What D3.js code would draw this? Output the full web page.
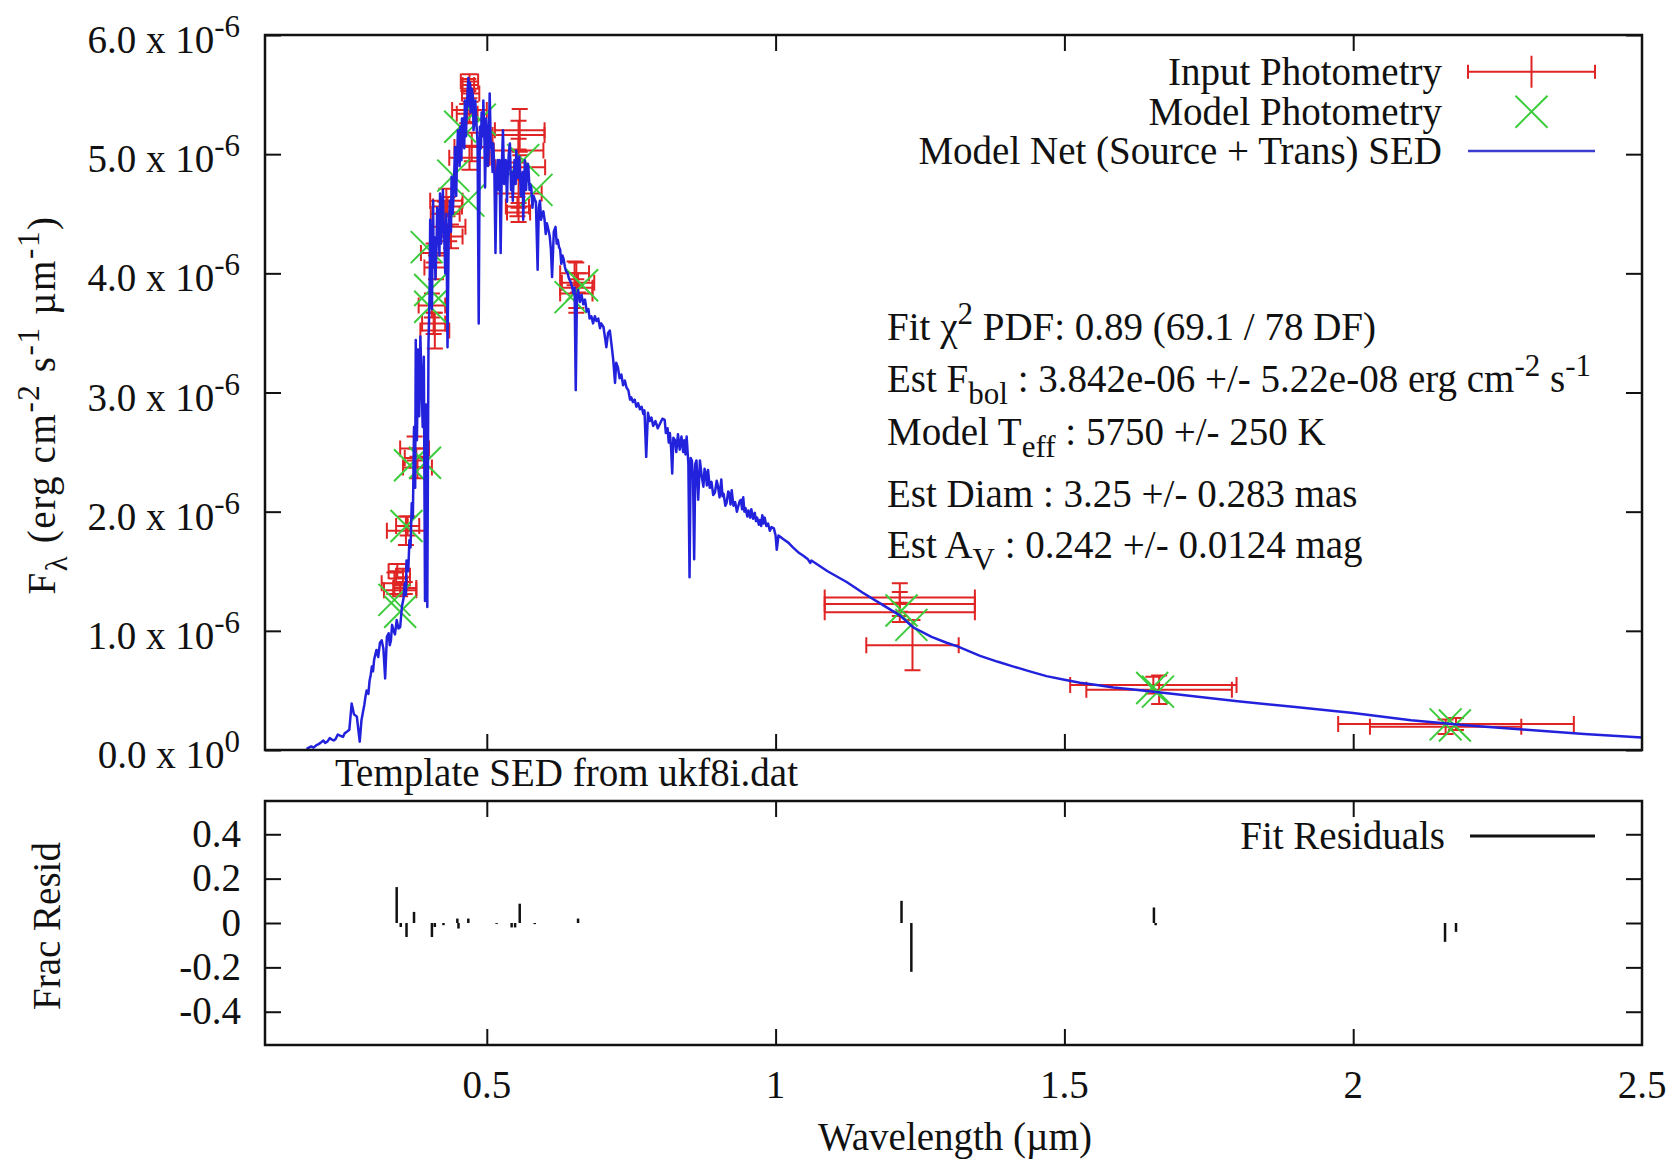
<!DOCTYPE html>
<html>
<head>
<meta charset="utf-8">
<script src="https://cdn.jsdelivr.net/npm/d3@7"></script>
<style>
  body { margin: 0; background: #fff; }
</style>
</head>
<body>
<div id="chart"></div>
<script>
// ---- data (flux in units of 1e-6 erg cm^-2 s^-1 um^-1) ----
const SPECTRUM = [
  [0.188,0.01],[0.196,0.03],[0.200,0.02],[0.205,0.04],[0.209,0.05],[0.212,0.06],[0.217,0.08],[0.220,0.06],
  [0.224,0.07],[0.228,0.10],[0.231,0.09],[0.235,0.08],[0.238,0.09],[0.242,0.13],[0.246,0.12],[0.251,0.11],
  [0.254,0.14],[0.257,0.15],[0.262,0.17],[0.266,0.39],[0.270,0.30],[0.275,0.28],[0.280,0.07],
  [0.283,0.25],[0.286,0.33],[0.288,0.38],[0.290,0.45],[0.292,0.50],[0.295,0.47],[0.297,0.58],[0.299,0.63],
  [0.301,0.70],[0.303,0.66],[0.305,0.76],[0.307,0.80],[0.309,0.84],[0.312,0.78],[0.315,0.90],[0.318,0.92],
  [0.321,0.85],[0.324,0.60],[0.327,0.95],[0.330,0.98],[0.332,0.88],[0.334,0.92],[0.336,1.05],[0.338,1.01],
  [0.341,0.97],[0.344,1.09],[0.347,1.02],[0.350,1.03],[0.353,1.20],[0.356,1.28],[0.358,1.40],[0.360,1.30],
  [0.361,1.59],[0.364,1.50],[0.366,1.76],[0.368,1.70],[0.370,2.07],[0.372,1.95],[0.374,2.71],[0.376,2.20],
  [0.377,3.44],[0.379,2.60],[0.381,3.36],[0.383,2.80],[0.385,3.47],[0.387,3.10],[0.389,2.71],[0.391,3.30],
  [0.393,1.25],[0.395,2.90],[0.397,1.20],[0.399,3.40],[0.401,3.83],[0.402,4.45],[0.404,4.10],[0.405,3.70],
  [0.407,4.61],[0.408,4.05],[0.410,4.30],[0.411,3.95],[0.413,4.22],[0.414,4.55],[0.416,4.50],[0.418,4.15],
  [0.419,4.67],[0.421,4.25],[0.422,4.40],[0.424,4.70],[0.425,4.47],[0.427,4.20],[0.428,4.00],[0.430,4.50],
  [0.432,3.38],[0.434,4.30],[0.436,4.61],[0.438,4.35],[0.439,4.81],[0.441,4.50],[0.442,4.61],[0.444,4.90],
  [0.445,5.06],[0.447,4.65],[0.448,4.87],[0.450,5.20],[0.451,5.15],[0.453,4.90],[0.454,5.23],[0.456,4.95],
  [0.457,5.30],[0.459,5.30],[0.461,5.05],[0.462,5.45],[0.464,5.15],[0.465,5.35],[0.467,5.55],[0.468,5.64],
  [0.470,5.40],[0.471,5.60],[0.472,5.35],[0.474,5.55],[0.476,5.48],[0.477,5.20],[0.479,5.30],[0.480,5.45],
  [0.482,5.26],[0.484,5.10],[0.486,3.58],[0.488,5.23],[0.490,5.05],[0.491,5.35],[0.493,5.15],[0.494,5.45],
  [0.496,5.10],[0.497,4.72],[0.499,5.30],[0.500,5.20],[0.502,4.90],[0.503,5.00],[0.505,5.51],[0.507,5.05],
  [0.508,5.10],[0.510,4.85],[0.511,5.09],[0.513,4.90],[0.515,4.17],[0.517,4.80],[0.519,4.95],[0.521,4.70],
  [0.522,4.95],[0.524,4.17],[0.526,4.90],[0.528,5.20],[0.530,4.75],[0.531,4.85],[0.533,4.95],[0.535,4.60],
  [0.536,4.80],[0.538,5.00],[0.540,5.09],[0.542,4.70],[0.543,4.85],[0.545,4.61],[0.547,4.85],[0.548,4.95],
  [0.550,4.75],[0.551,5.03],[0.553,4.85],[0.554,4.80],[0.556,4.98],[0.557,4.89],[0.559,4.65],[0.560,4.75],
  [0.562,4.85],[0.563,4.45],[0.565,4.80],[0.566,4.95],[0.568,4.70],[0.569,4.80],[0.571,4.92],[0.572,4.89],
  [0.574,4.70],[0.575,4.75],[0.577,4.72],[0.579,4.55],[0.581,4.65],[0.583,4.62],[0.585,4.60],[0.588,4.03],
  [0.590,4.55],[0.592,4.61],[0.594,4.45],[0.596,4.50],[0.598,4.52],[0.600,4.45],[0.602,4.33],[0.604,4.42],
  [0.606,4.38],[0.609,4.31],[0.611,4.20],[0.613,3.97],[0.616,4.35],[0.619,4.39],[0.621,4.25],[0.623,4.28],
  [0.625,4.22],[0.627,4.20],[0.629,4.08],[0.631,4.15],[0.633,4.12],[0.635,4.06],[0.637,4.02],[0.640,4.00],
  [0.642,3.96],[0.644,3.94],[0.647,3.90],[0.650,3.83],[0.652,3.88],[0.654,3.02],[0.656,3.80],[0.658,3.86],
  [0.661,3.76],[0.664,3.82],[0.667,3.74],[0.670,3.78],[0.673,3.68],[0.676,3.70],[0.678,3.62],[0.681,3.64],
  [0.684,3.58],[0.687,3.64],[0.690,3.60],[0.693,3.62],[0.696,3.54],[0.698,3.58],[0.702,3.55],[0.705,3.45],
  [0.707,3.38],[0.710,3.50],[0.713,3.52],[0.716,3.40],[0.719,3.27],[0.722,3.08],[0.724,3.25],[0.727,3.21],
  [0.730,3.12],[0.733,3.15],[0.736,3.06],[0.739,3.10],[0.742,3.04],[0.745,3.02],[0.748,2.94],[0.750,2.96],
  [0.753,2.92],[0.756,2.94],[0.759,2.88],[0.762,2.91],[0.765,2.86],[0.768,2.88],[0.771,2.82],[0.773,2.85],
  [0.776,2.46],[0.779,2.83],[0.782,2.76],[0.785,2.79],[0.788,2.72],[0.792,2.76],[0.796,2.70],[0.800,2.74],
  [0.804,2.78],[0.808,2.77],[0.810,2.66],[0.813,2.70],[0.815,2.58],[0.817,2.66],[0.819,2.54],[0.821,2.32],
  [0.823,2.62],[0.826,2.60],[0.828,2.50],[0.831,2.65],[0.834,2.52],[0.837,2.63],[0.840,2.50],[0.842,2.60],
  [0.844,2.48],[0.846,2.63],[0.849,2.40],[0.851,1.45],[0.853,2.45],[0.855,2.43],[0.857,2.30],[0.859,1.60],
  [0.861,2.40],[0.863,2.43],[0.866,2.10],[0.869,2.43],[0.872,2.30],[0.875,2.21],[0.877,2.36],[0.879,2.32],
  [0.881,2.22],[0.883,2.35],[0.886,2.20],[0.889,2.25],[0.892,2.14],[0.895,2.16],[0.898,2.26],[0.900,2.22],
  [0.903,2.12],[0.906,2.27],[0.908,2.13],[0.910,2.15],[0.913,2.05],[0.915,2.07],[0.918,2.17],[0.920,2.15],
  [0.922,2.06],[0.924,2.18],[0.927,2.05],[0.930,2.08],[0.933,2.00],[0.935,2.04],[0.938,2.09],[0.940,2.10],
  [0.942,2.02],[0.944,2.12],[0.946,2.00],[0.948,2.03],[0.951,1.96],[0.953,2.01],[0.956,1.95],[0.958,2.02],
  [0.961,1.94],[0.964,1.99],[0.966,1.92],[0.968,1.95],[0.971,1.89],[0.973,1.93],[0.975,1.88],[0.977,1.97],
  [0.979,1.90],[0.981,1.95],[0.984,1.88],[0.987,1.90],[0.990,1.84],[0.993,1.87],[0.997,1.86],[1.000,1.80],
  [1.002,1.68],[1.005,1.80],[1.008,1.79],[1.013,1.77],[1.022,1.74],[1.030,1.70],[1.039,1.66],[1.048,1.63],
  [1.056,1.60],[1.060,1.57],[1.062,1.59],[1.090,1.50],
  [1.123,1.41],[1.151,1.32],[1.181,1.23],[1.215,1.13],[1.238,1.03],[1.270,0.95],[1.296,0.90],[1.316,0.867],
  [1.354,0.79],[1.385,0.74],[1.412,0.70],[1.440,0.66],[1.469,0.62],[1.500,0.59],[1.527,0.565],[1.556,0.545],
  [1.585,0.525],[1.615,0.51],[1.643,0.495],[1.690,0.47],[1.735,0.445],[1.800,0.41],[1.900,0.36],[2.000,0.31],
  [2.100,0.25],[2.200,0.205],[2.300,0.17],[2.400,0.135],[2.500,0.105]
];

// input photometry: [wavelength, flux, wavelength half-width, flux error]
const INPUT_PHOT = [
  [0.340,1.40,0.022,0.09],[0.345,1.50,0.015,0.06],[0.350,1.34,0.028,0.05],[0.355,1.45,0.012,0.07],[0.358,1.36,0.020,0.05],
  [0.360,1.84,0.033,0.12],[0.363,1.88,0.020,0.08],
  [0.375,2.53,0.025,0.10],[0.378,2.45,0.020,0.08],[0.380,2.37,0.025,0.09],
  [0.405,3.73,0.023,0.10],[0.408,3.58,0.020,0.09],[0.410,3.52,0.025,0.15],
  [0.408,4.17,0.022,0.08],[0.412,4.05,0.020,0.10],
  [0.430,4.61,0.028,0.10],[0.432,4.56,0.025,0.08],[0.428,4.50,0.025,0.10],[0.435,4.39,0.028,0.12],[0.438,4.31,0.020,0.10],
  [0.470,5.61,0.015,0.06],[0.468,5.58,0.010,0.05],[0.472,5.51,0.015,0.07],[0.470,5.37,0.030,0.10],
  [0.466,5.34,0.018,0.08],[0.474,5.06,0.030,0.12],[0.470,4.97,0.035,0.10],
  [0.557,5.20,0.043,0.18],[0.555,5.16,0.045,0.12],[0.555,5.03,0.043,0.10],[0.558,4.89,0.043,0.10],
  [0.555,4.67,0.040,0.12],[0.553,4.56,0.020,0.08],[0.555,4.51,0.020,0.08],
  [0.655,3.88,0.028,0.21],[0.652,4.00,0.025,0.10],[0.658,3.92,0.028,0.08],[0.655,3.83,0.028,0.12],
  [1.215,1.28,0.130,0.12],[1.215,1.225,0.130,0.10],[1.215,1.155,0.130,0.08],[1.237,0.88,0.080,0.21],
  [1.654,0.545,0.144,0.07],[1.664,0.505,0.126,0.12],
  [2.178,0.218,0.204,0.05],[2.160,0.195,0.131,0.06]
];

// model photometry: [wavelength, flux]
const MODEL_PHOT = [
  [0.340,1.26],[0.350,1.16],[0.361,1.88],[0.367,2.39],[0.393,2.41],[0.402,3.72],[0.402,3.86],[0.396,4.22],
  [0.442,4.82],[0.468,4.61],[0.454,5.23],[0.488,5.29],[0.563,4.95],[0.586,4.70],[0.645,3.80],[0.665,3.90],
  [1.218,1.17],[1.235,1.05],[1.652,0.52],[1.662,0.49],[2.160,0.215],[2.176,0.205]
];

// fractional residuals: [wavelength, residual]
const RESIDUALS = [
  [0.344,0.162],[0.351,-0.018],[0.361,-0.063],[0.374,0.05],[0.405,-0.063],[0.410,-0.018],[0.425,-0.01],
  [0.449,0.02],[0.451,-0.025],[0.468,0.02],[0.517,-0.004],[0.543,-0.02],[0.549,-0.02],[0.557,0.087],
  [0.583,-0.005],[0.658,0.02],[1.218,0.10],[1.235,-0.22],[1.655,0.07],[1.658,-0.01],[2.159,-0.085],[2.178,-0.04]
];

const xTicks = [0.5, 1, 1.5, 2, 2.5];
const xTickLabels = ["0.5", "1", "1.5", "2", "2.5"];
const fluxTicks = [0, 1, 2, 3, 4, 5, 6];
const residTicks = [0.4, 0.2, 0, -0.2, -0.4];
const residTickLabels = ["0.4", "0.2", "0", "-0.2", "-0.4"];

const statLines = [
  [["Fit "], ["χ"], ["2", "sup"], [" PDF: 0.89 (69.1 / 78 DF)"]],
  [["Est F"], ["bol", "sub"], [" : 3.842e-06 +/- 5.22e-08 erg cm"], ["-2", "sup"], [" s"], ["-1", "sup"]],
  [["Model T"], ["eff", "sub"], [" : 5750 +/- 250 K"]],
  [["Est Diam : 3.25 +/- 0.283 mas"]],
  [["Est A"], ["V", "sub"], [" : 0.242 +/- 0.0124 mag"]]
];

// ---- layout ----
const width = 1678, height = 1167;
const plotL = 265, plotR = 1642;
const upP = { y0: 35, y1: 750 };
const lowP = { y0: 801, y1: 1045 };
const FS = 39, SFS = 31;
const RED = "#e02424", GREEN = "#3ccc3c", BLUE = "#2222dd";

const svg = d3.select("#chart").append("svg")
  .attr("width", width).attr("height", height)
  .style("font-family", "'Liberation Serif', 'Times New Roman', serif")
  .style("font-size", FS + "px");

svg.append("rect").attr("width", width).attr("height", height).attr("fill", "#fff");

const x = d3.scaleLinear().domain([0.116, 2.5]).range([plotL, plotR]);
const y = d3.scaleLinear().domain([0, 6]).range([upP.y1, upP.y0]);
const yr = d3.scaleLinear().domain([-0.55, 0.55]).range([lowP.y1, lowP.y0]);

// text with super/subscripts
function richText(g, px, py, parts, anchor, rotate) {
  const t = g.append("text")
    .attr("text-anchor", anchor || "start")
    .attr("fill", "#111");
  if (rotate) t.attr("transform", `translate(${px},${py}) rotate(-90)`);
  else t.attr("x", px).attr("y", py);
  let cur = 0;
  parts.forEach(([s, mode]) => {
    const want = mode === "sup" ? -16 : mode === "sub" ? 12 : 0;
    t.append("tspan")
      .attr("dy", want - cur)
      .attr("font-size", mode ? SFS : FS)
      .text(s);
    cur = want;
  });
  return t;
}

function ticks(g, axis, tx, ty) {
  g.append("g")
    .attr("transform", `translate(${tx},${ty})`)
    .call(axis)
    .call(a => a.select(".domain").remove())
    .call(a => a.selectAll("line").attr("stroke", "#111").attr("stroke-width", 2));
}

/* ---------------------------
   upper panel
--------------------------- */
const upper = svg.append("g");
const inner = [0.5, 1, 1.5, 2];
ticks(upper, d3.axisBottom(x).tickValues(inner).tickSize(-16).tickFormat(""), 0, upP.y1);
ticks(upper, d3.axisTop(x).tickValues(inner).tickSize(-16).tickFormat(""), 0, upP.y0);
ticks(upper, d3.axisLeft(y).tickValues(fluxTicks).tickSize(-16).tickFormat(""), plotL, 0);
ticks(upper, d3.axisRight(y).tickValues(fluxTicks).tickSize(-16).tickFormat(""), plotR, 0);

fluxTicks.forEach(v => {
  richText(upper, 240, y(v) + 18,
    [[v.toFixed(1) + " x 10"], [v === 0 ? "0" : "-6", "sup"]], "end");
});

// input photometry error bars
const cap = 8;
const eb = upper.append("g").attr("stroke", RED).attr("stroke-width", 2).attr("fill", "none");
INPUT_PHOT.forEach(([l, f, dl, df]) => {
  const cx = x(l), cy = y(f);
  const xa = x(l - dl), xb = x(l + dl), ya = y(f - df), yb = y(f + df);
  eb.append("path").attr("d",
    `M${xa},${cy}H${xb}M${xa},${cy - cap}V${cy + cap}M${xb},${cy - cap}V${cy + cap}` +
    `M${cx},${ya}V${yb}M${cx - cap},${ya}H${cx + cap}M${cx - cap},${yb}H${cx + cap}`);
});

// model photometry crosses
const xs = 16;
const mp = upper.append("g").attr("stroke", GREEN).attr("stroke-width", 2);
MODEL_PHOT.forEach(([l, f]) => {
  const cx = x(l), cy = y(f);
  mp.append("path").attr("d", `M${cx - xs},${cy - xs}L${cx + xs},${cy + xs}M${cx - xs},${cy + xs}L${cx + xs},${cy - xs}`);
});

// SED line
upper.append("path")
  .datum(SPECTRUM)
  .attr("fill", "none")
  .attr("stroke", BLUE)
  .attr("stroke-width", 2.5)
  .attr("stroke-linejoin", "round")
  .attr("d", d3.line().x(d => x(d[0])).y(d => y(d[1])));

upper.append("rect")
  .attr("x", plotL).attr("y", upP.y0)
  .attr("width", plotR - plotL).attr("height", upP.y1 - upP.y0)
  .attr("fill", "none").attr("stroke", "#111").attr("stroke-width", 2.5);

// legend
const legX1 = 1468, legX2 = 1595, legXc = (legX1 + legX2) / 2, legTx = 1442;
const legRows = [71.7, 111.7, 151];
richText(upper, legTx, legRows[0] + 13, [["Input Photometry"]], "end");
richText(upper, legTx, legRows[1] + 13, [["Model Photometry"]], "end");
richText(upper, legTx, legRows[2] + 13, [["Model Net (Source + Trans) SED"]], "end");
upper.append("path")
  .attr("d", `M${legX1},${legRows[0]}H${legX2}M${legX1},${legRows[0] - 7}V${legRows[0] + 7}M${legX2},${legRows[0] - 7}V${legRows[0] + 7}M${legXc},${legRows[0] - 16}V${legRows[0] + 16}`)
  .attr("stroke", RED).attr("stroke-width", 2).attr("fill", "none");
upper.append("path")
  .attr("d", `M${legXc - xs},${legRows[1] - xs}L${legXc + xs},${legRows[1] + xs}M${legXc - xs},${legRows[1] + xs}L${legXc + xs},${legRows[1] - xs}`)
  .attr("stroke", GREEN).attr("stroke-width", 2);
upper.append("line")
  .attr("x1", legX1).attr("x2", legX2).attr("y1", legRows[2]).attr("y2", legRows[2])
  .attr("stroke", "#3c3cd0").attr("stroke-width", 2.5);

// fit statistics
const statBase = [340, 392, 445, 507, 558];
statLines.forEach((parts, i) => richText(upper, 887, statBase[i], parts, "start"));

// y title
richText(svg, 55, 405,
  [["F"], ["λ", "sub"], [" (erg cm"], ["-2", "sup"], [" s"], ["-1", "sup"], [" µm"], ["-1", "sup"], [")"]],
  "middle", true)
  .attr("letter-spacing", "1.6px");

richText(svg, 335, 786, [["Template SED from ukf8i.dat"]], "start");

/* ---------------------------
   lower panel (residuals)
--------------------------- */
const lower = svg.append("g");
ticks(lower, d3.axisBottom(x).tickValues(inner).tickSize(-16).tickFormat(""), 0, lowP.y1);
ticks(lower, d3.axisTop(x).tickValues(inner).tickSize(-16).tickFormat(""), 0, lowP.y0);
ticks(lower, d3.axisLeft(yr).tickValues(residTicks).tickSize(-16).tickFormat(""), plotL, 0);
ticks(lower, d3.axisRight(yr).tickValues(residTicks).tickSize(-16).tickFormat(""), plotR, 0);

residTicks.forEach((v, i) => richText(lower, 241, yr(v) + 12.5, [[residTickLabels[i]]], "end"));
xTicks.forEach((v, i) => richText(lower, x(v), 1098, [[xTickLabels[i]]], "middle"));

lower.append("g")
  .selectAll("line")
  .data(RESIDUALS)
  .enter()
  .append("line")
  .attr("x1", d => x(d[0])).attr("x2", d => x(d[0]))
  .attr("y1", yr(0)).attr("y2", d => yr(d[1]))
  .attr("stroke", "#111").attr("stroke-width", 2.5);

lower.append("rect")
  .attr("x", plotL).attr("y", lowP.y0)
  .attr("width", plotR - plotL).attr("height", lowP.y1 - lowP.y0)
  .attr("fill", "none").attr("stroke", "#111").attr("stroke-width", 2.5);

richText(lower, 1445, 836 + 13, [["Fit Residuals"]], "end");
lower.append("line")
  .attr("x1", 1470).attr("x2", 1595).attr("y1", 836).attr("y2", 836)
  .attr("stroke", "#111").attr("stroke-width", 3);

richText(svg, 60, 926, [["Frac Resid"]], "middle", true);
richText(svg, 955, 1150, [["Wavelength (µm)"]], "middle");
</script>
</body>
</html>
